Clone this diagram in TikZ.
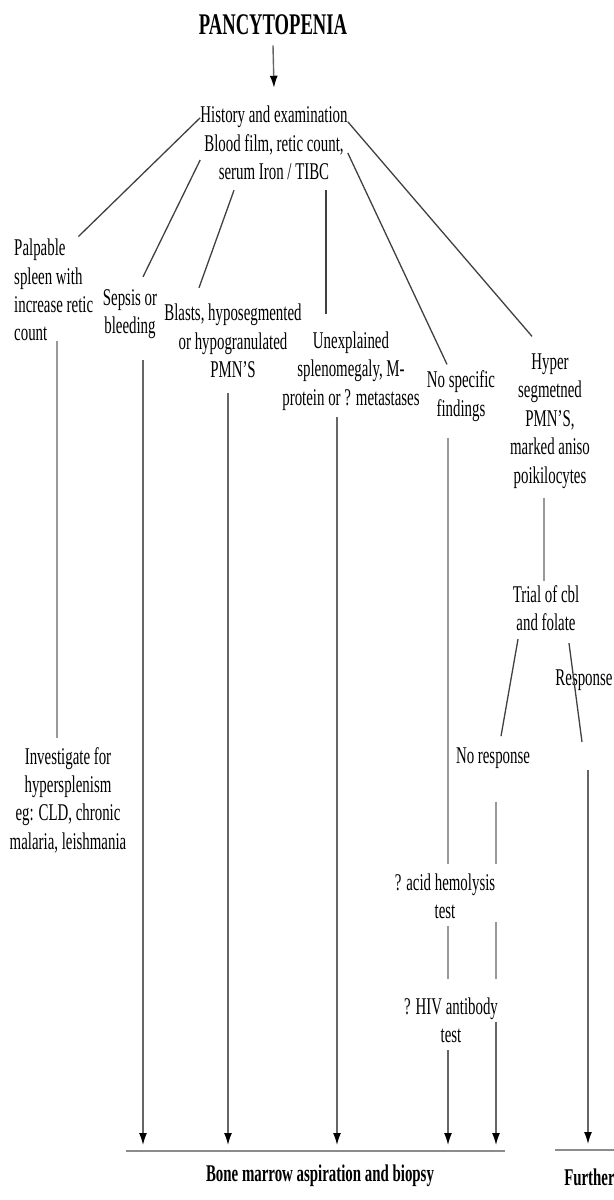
\documentclass[tikz,border=0pt]{standalone}
\usepackage{fontspec}
\setmainfont{Liberation Serif}
\usetikzlibrary{arrows.meta}

\begin{document}
\begin{tikzpicture}[x=0.5pt,y=-0.5pt,>={Latex[length=6pt,width=4pt,color=black]},
        txt/.style={font=\fontsize{12}{14.2}\selectfont,align=center,inner sep=0pt,xscale=0.62},
        hd/.style={txt,font=\fontsize{12}{14.2}\selectfont\bfseries},
        ln/.style={draw=black!75,line width=0.65pt},
        vln/.style={draw=black!40,line width=0.7pt},
        arr/.style={draw=black!60,line width=0.7pt,->},
        bar/.style={draw=black!45,line width=1.3pt}]
        \useasboundingbox (0,0) rectangle (614,1200);

        % nodes
        \node[hd,font=\fontsize{15}{17}\selectfont\bfseries] (title) at (273,25) {PANCYTOPENIA};
        \node[txt] (hist) at (274,143) {History and examination\\Blood film, retic count,\\serum Iron / TIBC};
        \node[txt,align=left,anchor=west] (palp) at (14,290) {Palpable\\spleen with\\increase retic\\count};
        \node[txt] (sepsis) at (130,314) {Sepsis or\\bleeding};
        \node[txt] (blasts) at (233,341) {Blasts, hyposegmented\\or hypogranulated\\PMN'S};
        \node[txt] (unexp) at (351,371) {Unexplained\\splenomegaly, M-\\protein or ? metastases};
        \node[txt] (nospec) at (461,396) {No specific\\findings};
        \node[txt] (hyper) at (550,421) {Hyper\\segmetned\\PMN'S,\\marked aniso\\poikilocytes};
        \node[txt] (trial) at (546,608) {Trial of cbl\\and folate};
        \node[txt] (resp) at (584,680) {Response};
        \node[txt] (nores) at (493,758) {No response};
        \node[txt] (invest) at (68,800) {Investigate for\\hypersplenism\\eg: CLD, chronic\\malaria, leishmania};
        \node[txt] (acid) at (445,896) {? acid hemolysis\\test};
        \node[txt] (hiv) at (451,1020) {? HIV antibody\\test};
        \node[hd] (bone) at (320,1176) {Bone marrow aspiration and biopsy};
        \node[hd,anchor=west] (further) at (564,1177) {Further};

        \coordinate (barL) at (126,1151);
        \coordinate (barR) at (505,1151);
        \coordinate (furL) at (555,1150);
        \coordinate (furR) at (620,1150);
        \coordinate (rc) at (582,742);
        \coordinate (nr) at ([xshift=1.5pt]nores.south);

        % connectors
        \draw[arr] ([yshift=-5pt]title.south) -- ([yshift=9pt]hist.north);
        \draw[ln] ([yshift=-6pt]hist.north west) -- ([xshift=-7.5pt,yshift=1pt]palp.north east);
        \draw[ln] ([yshift=-8.5pt]hist.west) -- ([xshift=6.5pt,yshift=6pt]sepsis.north);
        \draw[ln] ([xshift=-20pt,yshift=-5pt]hist.south) -- ([xshift=-17pt,yshift=8pt]blasts.north);
        \draw[ln] ([xshift=26pt,yshift=-5pt]hist.south) -- ([xshift=26pt,yshift=8.5pt]hist.south |- unexp.north);
        \draw[ln] ([yshift=-5pt]hist.east) -- ([xshift=-7pt,yshift=3pt]nospec.north);
        \draw[ln] ([yshift=-8pt]hist.north east) -- ([xshift=-9pt,yshift=8.5pt]hyper.north);

        \draw[vln] ([xshift=21.5pt]palp.south west) -- ([xshift=21.5pt,yshift=4.5pt]palp.south west |- invest.north);
        \draw[arr] ([xshift=6.5pt,yshift=-10.5pt]sepsis.south) -- ([xshift=6.5pt,yshift=3pt]sepsis.south |- barL);
        \draw[arr] ([xshift=-2.5pt,yshift=-7.5pt]blasts.south) -- ([xshift=-2.5pt,yshift=3pt]blasts.south |- barL);
        \draw[arr] ([xshift=-7pt,yshift=-3pt]unexp.south) -- ([xshift=-7pt,yshift=3pt]unexp.south |- barL);

        \draw[vln] ([xshift=-6.5pt,yshift=-8pt]nospec.south) -- ([xshift=-6.5pt,yshift=4.5pt]nospec.south |- acid.north);
        \draw[vln] ([xshift=1.5pt,yshift=-3.5pt]acid.south) -- ([xshift=1.5pt,yshift=9pt]acid.south |- hiv.north);
        \draw[arr] ([xshift=-1.5pt,yshift=-3.5pt]hiv.south) -- ([xshift=-1.5pt,yshift=3pt]hiv.south |- barL);

        \draw[vln] ([xshift=-3pt,yshift=-4.5pt]hyper.south) -- ([xshift=-3pt,yshift=2pt]hyper.south |- trial.north);
        \draw[ln] ([xshift=-14pt,yshift=-4pt]trial.south) -- ([xshift=4pt,yshift=5.5pt]nores.north);
        \draw[ln] ([xshift=11.5pt,yshift=-6pt]trial.south) -- (rc);
        \draw[arr] ([xshift=3pt,yshift=-14pt]rc) -- ([xshift=3pt,yshift=3pt]rc |- furL);

        \draw[vln] ([yshift=-16.5pt]nr) -- ([yshift=4.5pt]nr |- acid.north);
        \draw[vln] ([yshift=-1.5pt]nr |- acid.south) -- ([yshift=9pt]nr |- hiv.north);
        \draw[arr] ([yshift=-1pt]nr |- hiv.center) -- ([yshift=3pt]nr |- barL);

        \draw[bar] (barL) -- (barR);
        \draw[bar] (furL) -- (furR);
\end{tikzpicture}
\end{document}
